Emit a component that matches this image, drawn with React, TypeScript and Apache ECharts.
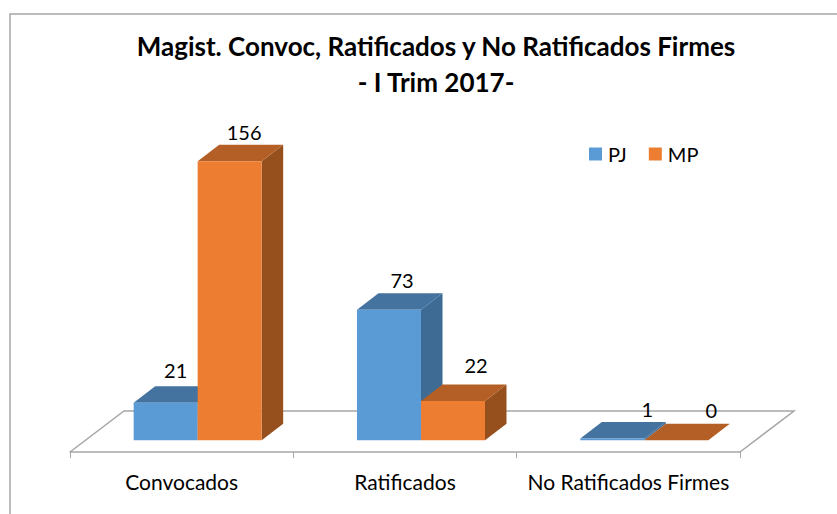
import React, { useEffect, useRef } from "react";
import * as echarts from "echarts";

const categories = ["Convocados", "Ratificados", "No Ratificados Firmes"];
const seriesNames = ["PJ", "MP"];
const pjValues = [21, 73, 1];
const mpValues = [156, 22, 0];
const titleText = "Magist. Convoc, Ratificados y No Ratificados Firmes\n- I Trim 2017-";

const FONT = "Lato, Carlito, Calibri, sans-serif";
const BAR_FRACTION = 64 / 223.33;
const GROUP_SHIFT = 16;
const DEPTH_X = 21.5;
const DEPTH_Y = 16.5;
const FLOOR_DROP = 11.7;
const FLOOR_DX = 54;
const FLOOR_DY = 41;

// label nudges relative to the top-back edge of each bar [series][category]
const labelNudge = [
  [[10, -16.5], [13, -13.5], [35, -13.5]],
  [[14.5, -13], [23, -19.5], [35, -13.5]],
];

const palettes = [
  { front: "#5b9bd5", top: "#44739f", side: "#3e6b94" },
  { front: "#ed7d31", top: "#b45f25", side: "#96501e" },
];

const poly = (points: number[][], fill: string) => ({
  type: "polygon",
  shape: { points },
  style: { fill, stroke: null },
});

const barRenderer = (seriesIdx: number) => (params: any, api: any) => {
  const cat = api.value(0);
  const val = api.value(1);
  const [cx, yTop] = api.coord([cat, val]);
  const [, y0] = api.coord([cat, 0]);
  const band = api.size([1, 0])[0];
  const w = band * BAR_FRACTION;
  const x0 = cx + GROUP_SHIFT + (seriesIdx === 0 ? -w : 0);
  const x1 = x0 + w;
  const p = palettes[seriesIdx];
  const [nx, ny] = labelNudge[seriesIdx][cat];
  return {
    type: "group",
    children: [
      poly([[x1, yTop], [x1 + DEPTH_X, yTop - DEPTH_Y], [x1 + DEPTH_X, y0 - DEPTH_Y], [x1, y0]], p.side),
      poly([[x0, yTop], [x0 + DEPTH_X, yTop - DEPTH_Y], [x1 + DEPTH_X, yTop - DEPTH_Y], [x1, yTop]], p.top),
      { type: "rect", shape: { x: x0, y: yTop, width: w, height: y0 - yTop }, style: { fill: p.front } },
      {
        type: "text",
        z2: 10,
        style: {
          x: (x0 + x1) / 2 + nx,
          y: yTop - DEPTH_Y + ny,
          text: String(val),
          fill: "#000000",
          font: `20px ${FONT}`,
          align: "center",
          verticalAlign: "middle",
        },
      },
    ],
  };
};

const floorRenderer = (params: any) => {
  const c = params.coordSys;
  const y = c.y + c.height + FLOOR_DROP;
  const x = c.x;
  const r = c.x + c.width;
  return {
    type: "polyline",
    silent: true,
    shape: {
      points: [
        [x, y],
        [x + FLOOR_DX, y - FLOOR_DY],
        [r + FLOOR_DX, y - FLOOR_DY],
        [r, y],
      ],
    },
    style: { fill: null, stroke: "#a6a6a6", lineWidth: 1.5 },
  };
};

export default function App() {
  const ref = useRef<HTMLDivElement>(null);
  useEffect(() => {
    const chart = echarts.init(ref.current!, null, { renderer: "svg" });
    chart.setOption({
      animation: false,
      backgroundColor: "#ffffff",
      title: {
        text: titleText,
        left: 431,
        top: 23,
        textAlign: "center",
        textStyle: {
          fontFamily: FONT,
          fontWeight: "bold",
          fontSize: 26,
          lineHeight: 36,
          color: "#000000",
        },
      },
      legend: {
        left: 589,
        top: 144,
        padding: 0,
        itemWidth: 13,
        itemHeight: 13,
        itemGap: 22,
        icon: "rect",
        data: seriesNames.map((name, i) => ({ name, itemStyle: { color: palettes[i].front } })),
        textStyle: { fontFamily: FONT, fontSize: 20, color: "#000000", padding: [0, 0, 0, 1] },
      },
      grid: { left: 70, width: 670, top: 154, height: 286.3 },
      xAxis: {
        type: "category",
        data: categories,
        offset: FLOOR_DROP,
        axisLine: { show: true, onZero: false, lineStyle: { color: "#a6a6a6", width: 1.5 } },
        axisTick: { show: true, length: 6, lineStyle: { color: "#a6a6a6" } },
        axisLabel: { fontFamily: FONT, fontSize: 21, color: "#000000", margin: 19, interval: 0 },
      },
      yAxis: { type: "value", min: 0, max: 160, show: false, splitLine: { show: false } },
      series: [
        {
          type: "custom",
          name: "floor",
          z: 1,
          silent: true,
          renderItem: floorRenderer,
          data: [[0, 0]],
          encode: { x: 0, y: 1 },
        },
        ...seriesNames.map((name, i) => ({
          type: "custom",
          name,
          z: 2 + i,
          renderItem: barRenderer(i),
          encode: { x: 0, y: 1 },
          itemStyle: { color: palettes[i].front },
          data: (i === 0 ? pjValues : mpValues).map((v, c) => [c, v]),
        })),
      ],
      graphic: [
        {
          type: "polyline",
          silent: true,
          shape: { points: [[10, 514], [10, 14], [837, 14]] },
          style: { fill: null, stroke: "#a6a6a6", lineWidth: 1.5 },
        },
      ],
    });
    return () => chart.dispose();
  }, []);
  return <div ref={ref} style={{ position: "absolute", left: 0, top: 0, width: 837, height: 514 }} />;
}
